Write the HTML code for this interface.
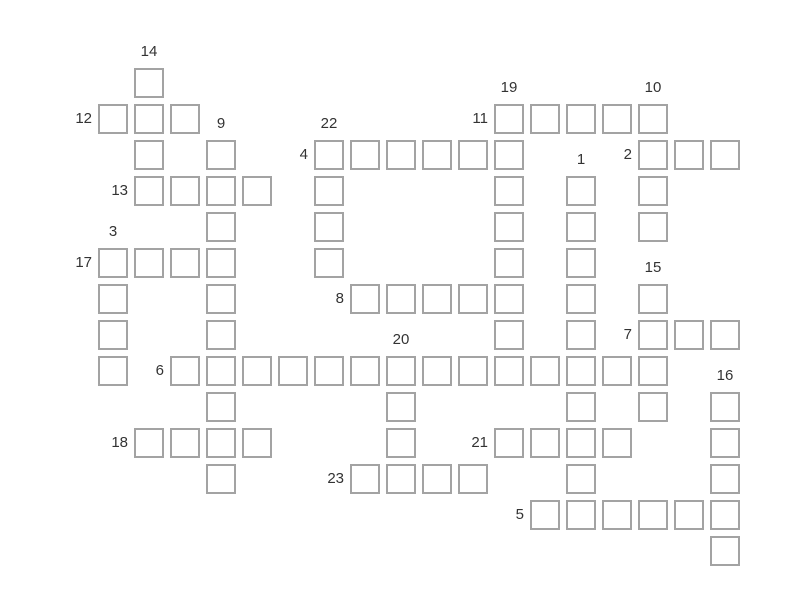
<!DOCTYPE html>
<html><head><meta charset="utf-8"><style>
html,body{margin:0;padding:0;background:#fff;width:800px;height:600px;overflow:hidden;font-family:"Liberation Sans","DejaVu Sans",sans-serif;}
.c{position:absolute;width:30px;height:30px;box-sizing:border-box;border:2px solid #a3a3a3;background:#fff;}
.t{position:absolute;font-size:15px;color:#333;line-height:18px;}
.a{width:40px;text-align:center;}
.l{width:30px;text-align:right;}
</style></head><body>
<!-- row0 -->
<div class="c" style="left:134px;top:68px"></div>
<!-- row1 -->
<div class="c" style="left:98px;top:104px"></div><div class="c" style="left:134px;top:104px"></div><div class="c" style="left:170px;top:104px"></div>
<div class="c" style="left:494px;top:104px"></div><div class="c" style="left:530px;top:104px"></div><div class="c" style="left:566px;top:104px"></div><div class="c" style="left:602px;top:104px"></div><div class="c" style="left:638px;top:104px"></div>
<!-- row2 -->
<div class="c" style="left:134px;top:140px"></div><div class="c" style="left:206px;top:140px"></div>
<div class="c" style="left:314px;top:140px"></div><div class="c" style="left:350px;top:140px"></div><div class="c" style="left:386px;top:140px"></div><div class="c" style="left:422px;top:140px"></div><div class="c" style="left:458px;top:140px"></div><div class="c" style="left:494px;top:140px"></div>
<div class="c" style="left:638px;top:140px"></div><div class="c" style="left:674px;top:140px"></div><div class="c" style="left:710px;top:140px"></div>
<!-- row3 -->
<div class="c" style="left:134px;top:176px"></div><div class="c" style="left:170px;top:176px"></div><div class="c" style="left:206px;top:176px"></div><div class="c" style="left:242px;top:176px"></div>
<div class="c" style="left:314px;top:176px"></div><div class="c" style="left:494px;top:176px"></div><div class="c" style="left:566px;top:176px"></div><div class="c" style="left:638px;top:176px"></div>
<!-- row4 -->
<div class="c" style="left:206px;top:212px"></div><div class="c" style="left:314px;top:212px"></div><div class="c" style="left:494px;top:212px"></div><div class="c" style="left:566px;top:212px"></div><div class="c" style="left:638px;top:212px"></div>
<!-- row5 -->
<div class="c" style="left:98px;top:248px"></div><div class="c" style="left:134px;top:248px"></div><div class="c" style="left:170px;top:248px"></div><div class="c" style="left:206px;top:248px"></div>
<div class="c" style="left:314px;top:248px"></div><div class="c" style="left:494px;top:248px"></div><div class="c" style="left:566px;top:248px"></div>
<!-- row6 -->
<div class="c" style="left:98px;top:284px"></div><div class="c" style="left:206px;top:284px"></div>
<div class="c" style="left:350px;top:284px"></div><div class="c" style="left:386px;top:284px"></div><div class="c" style="left:422px;top:284px"></div><div class="c" style="left:458px;top:284px"></div><div class="c" style="left:494px;top:284px"></div>
<div class="c" style="left:566px;top:284px"></div><div class="c" style="left:638px;top:284px"></div>
<!-- row7 -->
<div class="c" style="left:98px;top:320px"></div><div class="c" style="left:206px;top:320px"></div><div class="c" style="left:494px;top:320px"></div><div class="c" style="left:566px;top:320px"></div>
<div class="c" style="left:638px;top:320px"></div><div class="c" style="left:674px;top:320px"></div><div class="c" style="left:710px;top:320px"></div>
<!-- row8 -->
<div class="c" style="left:98px;top:356px"></div>
<div class="c" style="left:170px;top:356px"></div><div class="c" style="left:206px;top:356px"></div><div class="c" style="left:242px;top:356px"></div><div class="c" style="left:278px;top:356px"></div><div class="c" style="left:314px;top:356px"></div><div class="c" style="left:350px;top:356px"></div><div class="c" style="left:386px;top:356px"></div><div class="c" style="left:422px;top:356px"></div><div class="c" style="left:458px;top:356px"></div><div class="c" style="left:494px;top:356px"></div><div class="c" style="left:530px;top:356px"></div><div class="c" style="left:566px;top:356px"></div><div class="c" style="left:602px;top:356px"></div><div class="c" style="left:638px;top:356px"></div>
<!-- row9 -->
<div class="c" style="left:206px;top:392px"></div><div class="c" style="left:386px;top:392px"></div><div class="c" style="left:566px;top:392px"></div><div class="c" style="left:638px;top:392px"></div><div class="c" style="left:710px;top:392px"></div>
<!-- row10 -->
<div class="c" style="left:134px;top:428px"></div><div class="c" style="left:170px;top:428px"></div><div class="c" style="left:206px;top:428px"></div><div class="c" style="left:242px;top:428px"></div>
<div class="c" style="left:386px;top:428px"></div>
<div class="c" style="left:494px;top:428px"></div><div class="c" style="left:530px;top:428px"></div><div class="c" style="left:566px;top:428px"></div><div class="c" style="left:602px;top:428px"></div>
<div class="c" style="left:710px;top:428px"></div>
<!-- row11 -->
<div class="c" style="left:206px;top:464px"></div>
<div class="c" style="left:350px;top:464px"></div><div class="c" style="left:386px;top:464px"></div><div class="c" style="left:422px;top:464px"></div><div class="c" style="left:458px;top:464px"></div>
<div class="c" style="left:566px;top:464px"></div><div class="c" style="left:710px;top:464px"></div>
<!-- row12 -->
<div class="c" style="left:530px;top:500px"></div><div class="c" style="left:566px;top:500px"></div><div class="c" style="left:602px;top:500px"></div><div class="c" style="left:638px;top:500px"></div><div class="c" style="left:674px;top:500px"></div><div class="c" style="left:710px;top:500px"></div>
<!-- row13 -->
<div class="c" style="left:710px;top:536px"></div>

<!-- above labels -->
<div class="t a" style="left:129px;top:43px">14</div>
<div class="t a" style="left:489px;top:79px">19</div>
<div class="t a" style="left:633px;top:79px">10</div>
<div class="t a" style="left:201px;top:115px">9</div>
<div class="t a" style="left:309px;top:115px">22</div>
<div class="t a" style="left:561px;top:151px">1</div>
<div class="t a" style="left:93px;top:223px">3</div>
<div class="t a" style="left:633px;top:259px">15</div>
<div class="t a" style="left:381px;top:331px">20</div>
<div class="t a" style="left:705px;top:367px">16</div>
<!-- left labels -->
<div class="t l" style="left:62px;top:110px">12</div>
<div class="t l" style="left:458px;top:110px">11</div>
<div class="t l" style="left:278px;top:146px">4</div>
<div class="t l" style="left:602px;top:146px">2</div>
<div class="t l" style="left:98px;top:182px">13</div>
<div class="t l" style="left:62px;top:254px">17</div>
<div class="t l" style="left:314px;top:290px">8</div>
<div class="t l" style="left:602px;top:326px">7</div>
<div class="t l" style="left:134px;top:362px">6</div>
<div class="t l" style="left:98px;top:434px">18</div>
<div class="t l" style="left:458px;top:434px">21</div>
<div class="t l" style="left:314px;top:470px">23</div>
<div class="t l" style="left:494px;top:506px">5</div>
</body></html>
